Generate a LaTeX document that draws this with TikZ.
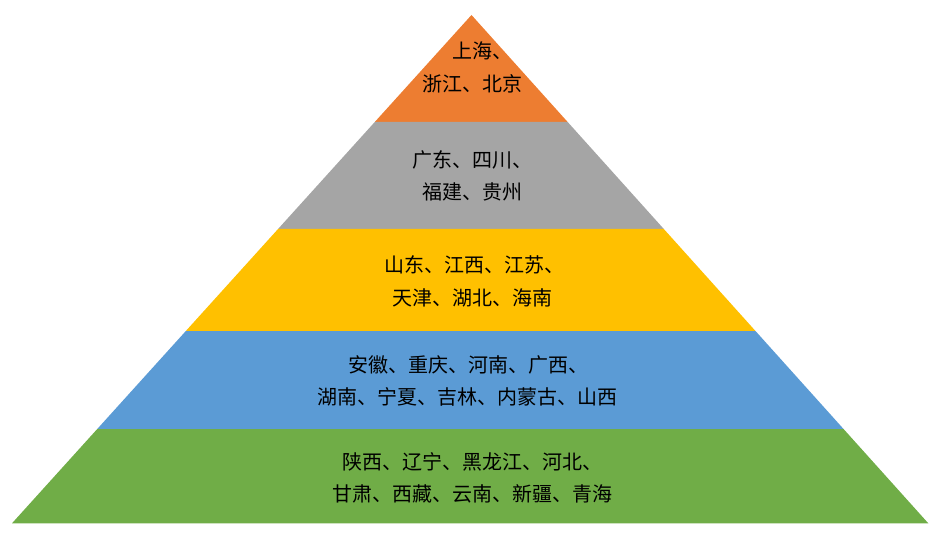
\documentclass[tikz,border=0pt]{standalone}
\usepackage{fontspec}
\newfontfamily\cjk{Noto Sans CJK SC}
\usetikzlibrary{calc}
\definecolor{cOrange}{HTML}{ED7D31}
\definecolor{cGray}{HTML}{A5A5A5}
\definecolor{cYellow}{HTML}{FFC000}
\definecolor{cBlue}{HTML}{5B9BD5}
\definecolor{cGreen}{HTML}{70AD47}
\tikzset{
  lbl/.style={anchor=west, inner sep=0pt, outer sep=0pt, font=\cjk\fontsize{20}{24}\selectfont, text=black},
}
\begin{document}
\begin{tikzpicture}[x=1pt,y=-1pt]
\useasboundingbox (0,0) rectangle (940,543);
\coordinate (A) at (471.5,15);
\coordinate (BL) at (12,523.3);
\coordinate (BR) at (928.3,523.3);
\foreach \n/\t in {1/0.2105,2/0.4210,3/0.6217,4/0.8145}{
  \coordinate (L\n) at ($(A)!\t!(BL)$);
  \coordinate (R\n) at ($(A)!\t!(BR)$);
}
\fill[cOrange] (A) -- (L1) -- (R1) -- cycle;
\fill[cGray] (L1) -- (L2) -- (R2) -- (R1) -- cycle;
\fill[cYellow] (L2) -- (L3) -- (R3) -- (R2) -- cycle;
\fill[cBlue] (L3) -- (L4) -- (R4) -- (R3) -- cycle;
\fill[cGreen] (L4) -- (BL) -- (BR) -- (R4) -- cycle;

\node[lbl] (o1) at (452,51) {上海、};
\node[lbl] (o2) at (422,84) {浙江、北京};
\node[lbl] (g1) at (412,160) {广东、四川、};
\node[lbl] (g2) at (422,192) {福建、贵州};
\node[lbl] (y1) at (384,265) {山东、江西、江苏、};
\node[lbl] (y2) at (392,298) {天津、湖北、海南};
\node[lbl] (b1) at (348,365) {安徽、重庆、河南、广西、};
\node[lbl] (b2) at (317,397) {湖南、宁夏、吉林、内蒙古、山西};
\node[lbl] (e1) at (342,462) {陕西、辽宁、黑龙江、河北、};
\node[lbl] (e2) at (332,494) {甘肃、西藏、云南、新疆、青海};
\end{tikzpicture}
\end{document}
